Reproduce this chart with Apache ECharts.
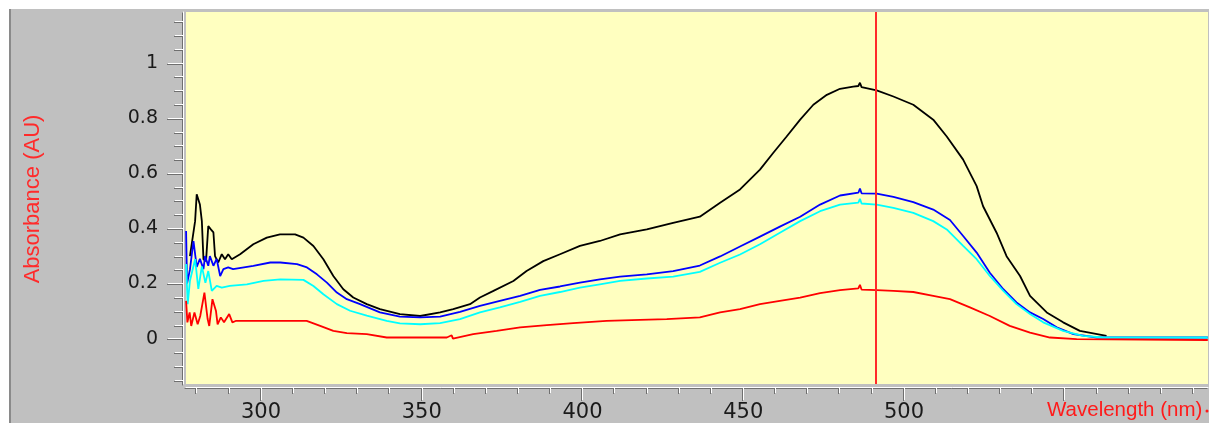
<!DOCTYPE html>
<html>
<head>
<meta charset="utf-8">
<script src="https://cdn.jsdelivr.net/npm/echarts@6/dist/echarts.min.js"></script>
<style>
html,body{margin:0;padding:0;background:#ffffff;}
#wrap{position:relative;width:1213px;height:423px;overflow:hidden;}
#panel{position:absolute;left:9px;top:9px;width:1198px;height:414px;background:#c0c0c0;border-left:2px solid #8a8a8a;}
#chart{position:absolute;left:0;top:0;width:1213px;height:423px;}
</style>
</head>
<body>
<div id="wrap"><div id="panel"></div><div id="chart"></div></div>
<script>
// ---------- DATA ----------
const xAxisName = 'Wavelength (nm)';
const yAxisName = 'Absorbance (AU)';
const xRange = [276.67, 594.56];
const yRange = [-0.1646, 1.1844];
const xMajorTicks = [300, 350, 400, 450, 500, 550];
const xTickLabels = [300, 350, 400, 450, 500];
const xMinorTicks = [280, 290, 300, 310, 320, 330, 340, 350, 360, 370, 380, 390, 400, 410, 420, 430, 440, 450, 460, 470, 480, 490, 500, 510, 520, 530, 540, 550, 560, 570, 580, 590];
const yTickLabels = [0, 0.2, 0.4, 0.6, 0.8, 1];
const yMinorTicks = [-0.15, -0.1, -0.05, 0, 0.05, 0.1, 0.15, 0.2, 0.25, 0.3, 0.35, 0.4, 0.45, 0.5, 0.55, 0.6, 0.65, 0.7, 0.75, 0.8, 0.85, 0.9, 0.95, 1, 1.05, 1.1, 1.15];
const cursorWavelength = 491.3;

const blackSpectrum = [[277.9,0.299],[279.5,0.426],[280.0,0.523],[281.0,0.486],[281.6,0.426],[282.1,0.288],[282.9,0.281],[283.6,0.408],[284.4,0.396],[285.2,0.385],[285.7,0.299],[286.7,0.276],[287.8,0.306],[288.8,0.288],[289.8,0.306],[290.9,0.288],[293.5,0.306],[297.6,0.342],[301.8,0.366],[305.9,0.378],[310.6,0.378],[313.2,0.366],[316.3,0.336],[319.4,0.288],[322.5,0.227],[325.6,0.179],[328.7,0.149],[332.9,0.125],[337.0,0.107],[343.2,0.089],[349.5,0.082],[355.7,0.095],[359.8,0.107],[365.0,0.125],[368.1,0.149],[372.3,0.173],[378.5,0.209],[382.6,0.245],[387.8,0.281],[393.0,0.306],[399.2,0.336],[405.4,0.354],[411.7,0.378],[420.0,0.396],[428.2,0.420],[436.5,0.442],[442.8,0.493],[449.0,0.541],[455.2,0.613],[459.3,0.673],[463.5,0.733],[467.7,0.794],[471.8,0.848],[476.0,0.884],[480.1,0.906],[484.2,0.914],[485.8,0.916],[486.3,0.928],[486.8,0.912],[491.5,0.900],[496.7,0.878],[502.9,0.848],[509.1,0.794],[513.3,0.733],[518.4,0.649],[522.6,0.553],[524.6,0.480],[528.8,0.384],[531.9,0.299],[536.1,0.227],[539.2,0.155],[544.4,0.095],[549.5,0.059],[554.7,0.028],[563.0,0.010]];

const blueSpectrum = [[276.7,0.390],[277.0,0.200],[277.9,0.251],[279.0,0.354],[279.5,0.360],[280.0,0.260],[281.0,0.289],[282.1,0.252],[282.6,0.299],[283.6,0.264],[284.1,0.299],[285.2,0.264],[286.2,0.289],[287.3,0.227],[288.3,0.252],[289.8,0.258],[291.3,0.252],[297.6,0.264],[302.9,0.276],[306.0,0.276],[311.2,0.270],[314.3,0.258],[317.4,0.233],[320.5,0.203],[323.6,0.167],[326.7,0.143],[330.8,0.125],[337.0,0.095],[343.2,0.080],[349.5,0.077],[355.7,0.080],[361.9,0.097],[368.1,0.119],[374.3,0.137],[380.6,0.155],[386.8,0.177],[393.0,0.189],[399.2,0.203],[405.4,0.215],[411.7,0.225],[420.0,0.233],[428.2,0.245],[436.5,0.265],[442.8,0.298],[449.0,0.334],[455.2,0.370],[461.4,0.406],[467.7,0.442],[473.9,0.486],[480.1,0.519],[485.8,0.529],[486.3,0.544],[486.8,0.527],[491.5,0.526],[496.7,0.514],[502.9,0.495],[509.1,0.468],[514.3,0.430],[518.4,0.372],[522.6,0.312],[526.7,0.239],[530.9,0.179],[535.0,0.131],[539.2,0.095],[543.3,0.071],[547.5,0.041],[552.7,0.016],[560.0,0.004],[594.5,0.004]];

const cyanSpectrum = [[276.7,0.270],[277.2,0.125],[277.9,0.210],[279.5,0.288],[280.5,0.180],[281.6,0.262],[282.7,0.202],[283.6,0.245],[284.7,0.173],[286.2,0.191],[287.8,0.185],[290.3,0.191],[295.6,0.197],[300.8,0.209],[306.0,0.215],[313.2,0.213],[316.3,0.191],[319.4,0.161],[323.6,0.125],[327.7,0.101],[332.9,0.083],[339.1,0.064],[343.2,0.055],[349.5,0.052],[355.7,0.056],[361.9,0.071],[368.1,0.095],[374.3,0.113],[380.6,0.133],[386.8,0.155],[393.0,0.169],[399.2,0.185],[405.4,0.197],[411.7,0.209],[420.0,0.218],[428.2,0.225],[436.5,0.242],[442.8,0.275],[449.0,0.305],[455.2,0.342],[461.4,0.384],[467.7,0.426],[473.9,0.462],[480.1,0.486],[485.8,0.493],[486.3,0.507],[486.8,0.490],[491.5,0.486],[496.7,0.474],[502.9,0.456],[509.1,0.426],[513.3,0.396],[518.4,0.336],[522.6,0.288],[526.7,0.227],[530.9,0.173],[535.0,0.125],[539.2,0.089],[543.3,0.059],[549.5,0.028],[555.7,0.010],[561.9,0.004],[594.5,0.004]];

const redSpectrum = [[276.7,0.137],[277.1,0.059],[277.8,0.095],[278.3,0.046],[279.3,0.095],[280.3,0.052],[281.1,0.082],[282.4,0.167],[283.4,0.071],[283.9,0.046],[284.9,0.143],[286.0,0.100],[286.5,0.052],[287.5,0.077],[288.5,0.059],[290.1,0.089],[291.1,0.059],[292.1,0.064],[295.6,0.064],[314.2,0.064],[318.4,0.046],[322.5,0.028],[326.7,0.020],[332.9,0.016],[339.1,0.004],[343.2,0.004],[347.4,0.004],[357.8,0.004],[359.3,0.012],[359.7,0.000],[366.0,0.016],[373.3,0.028],[380.6,0.041],[388.9,0.049],[397.1,0.056],[407.5,0.064],[417.9,0.068],[426.2,0.071],[436.5,0.077],[442.8,0.095],[449.0,0.107],[455.2,0.125],[461.4,0.137],[467.7,0.149],[473.9,0.165],[480.1,0.176],[485.8,0.182],[486.3,0.195],[486.8,0.178],[491.5,0.176],[496.7,0.173],[502.9,0.169],[509.1,0.155],[514.3,0.143],[520.5,0.113],[526.7,0.082],[532.9,0.046],[539.2,0.022],[545.4,0.004],[553.7,-0.002],[594.5,-0.005]];

// ---------- CHART ----------
const chart = echarts.init(document.getElementById('chart'), null, {renderer: 'canvas'});
const tickLine = {color: '#ffffff', width: 1, shadowColor: '#6f6f6f', shadowOffsetX: -1, shadowOffsetY: 1, shadowBlur: 0};
const lineSeries = (name, data, color) => ({
  name, type: 'line', data, xAxisIndex: 0, yAxisIndex: 0,
  symbol: 'none', showSymbol: false, smooth: false,
  lineStyle: {color, width: 1.8}, itemStyle: {color},
  animation: false, silent: true
});

const option = {
  animation: false,
  backgroundColor: 'transparent',
  grid: {left: 186, right: 5, top: 12, bottom: 38, show: true, backgroundColor: '#ffffc0', borderWidth: 0},
  xAxis: [
    {
      type: 'value', min: xRange[0], max: xRange[1], position: 'bottom', offset: 3,
      axisLine: {show: true, onZero: false, lineStyle: tickLine},
      axisTick: {show: true, customValues: xMajorTicks, length: 13, lineStyle: tickLine},
      axisLabel: {show: true, customValues: xTickLabels, margin: 15, color: '#1a1a1a', fontFamily: 'DejaVu Sans', fontSize: 21},
      splitLine: {show: false}
    },
    {
      type: 'value', min: xRange[0], max: xRange[1], position: 'bottom', offset: 3,
      axisLine: {show: false, onZero: false},
      axisTick: {show: true, customValues: xMinorTicks, length: 6, lineStyle: tickLine},
      axisLabel: {show: false},
      splitLine: {show: false}
    }
  ],
  yAxis: [
    {
      type: 'value', min: yRange[0], max: yRange[1], position: 'left', offset: 3,
      axisLine: {show: true, onZero: false, lineStyle: tickLine},
      axisTick: {show: true, customValues: yTickLabels, length: 15, lineStyle: tickLine},
      axisLabel: {show: true, customValues: yTickLabels, margin: 25, color: '#1a1a1a', fontFamily: 'DejaVu Sans', fontSize: 19},
      splitLine: {show: false}
    },
    {
      type: 'value', min: yRange[0], max: yRange[1], position: 'left', offset: 3,
      axisLine: {show: false, onZero: false},
      axisTick: {show: true, customValues: yMinorTicks, length: 8, lineStyle: tickLine},
      axisLabel: {show: false},
      splitLine: {show: false}
    }
  ],
  graphic: [
    {type: 'text', left: 1047, top: 400, silent: true,
     style: {text: xAxisName, fill: '#ff1a1a', font: '20.5px "Liberation Sans", Arial, sans-serif'}},
    {type: 'circle', shape: {cx: 1207, cy: 411, r: 1.5}, silent: true, style: {fill: '#ff1a1a'}},
    {type: 'text', x: 33, y: 199, rotation: Math.PI / 2, silent: true,
     style: {text: yAxisName, fill: '#ff2a2a', font: '22px "Liberation Sans", Arial, sans-serif', textAlign: 'center', textVerticalAlign: 'middle'}}
  ],
  series: [
    lineSeries('black', blackSpectrum, '#000000'),
    lineSeries('blue', blueSpectrum, '#0000ff'),
    lineSeries('cyan', cyanSpectrum, '#00ffff'),
    Object.assign(lineSeries('red', redSpectrum, '#ff0000'), {
      markLine: {
        silent: true, symbol: 'none', animation: false,
        label: {show: false},
        lineStyle: {color: '#ff2a2a', width: 2, type: 'solid'},
        data: [{xAxis: cursorWavelength}]
      }
    })
  ]
};
chart.setOption(option);
</script>
</body>
</html>
